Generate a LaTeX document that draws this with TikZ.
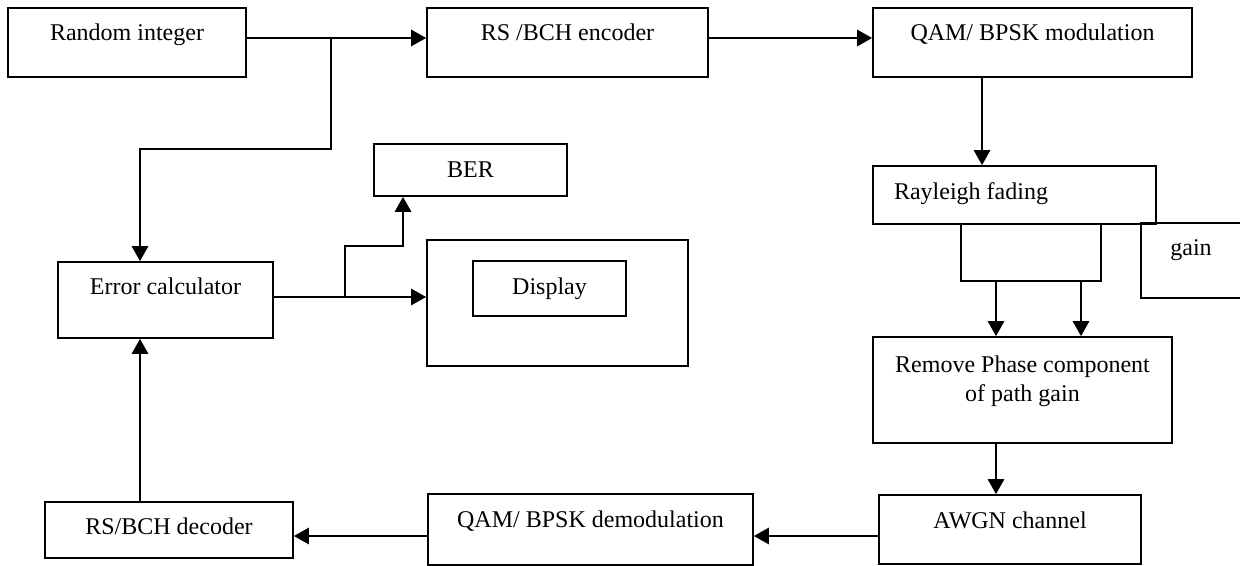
\documentclass[tikz,border=0pt]{standalone}
\usepackage{fontspec}
\setmainfont{Liberation Serif}
\usetikzlibrary{arrows.meta}

\begin{document}
\begin{tikzpicture}[x=0.5pt,y=-0.5pt,>={Triangle[length=7.5pt,width=8pt]},line width=1.3pt,
        block/.style={draw,line width=0.8pt,inner sep=0pt,font=\fontsize{12}{14.5}\selectfont,
            text height=8pt,text depth=#1},
        block/.default=0pt]
    \useasboundingbox (0,0) rectangle (1240,566);
    % top row
    \node[block=9.5pt,minimum width=119pt,minimum height=34.5pt] (rand) at (127,42.5) {Random integer};
    \node[block=9.5pt,minimum width=140.5pt,minimum height=34.5pt] (enc) at (567.5,42.5) {RS /BCH encoder};
    \node[block=9.5pt,minimum width=159.5pt,minimum height=34.5pt] (mod) at (1032.5,42.5) {QAM/ BPSK modulation};
    % channel
    \node[block=3pt,text width=120.5pt,inner xsep=10.5pt,align=flush left,minimum height=29pt] (ray) at (1014.5,195) {Rayleigh fading};
    \node[block=13pt,draw=none,minimum width=49pt,minimum height=36.5pt] (gain) at (1191,260.5) {gain};
    \node[block=26pt,text width=149.5pt,align=flush center,minimum height=53pt] (rem) at (1022.5,390) {Remove Phase component\\of path gain};
    \node[block=9.5pt,minimum width=131pt,minimum height=34.5pt] (awgn) at (1010,529.5) {AWGN channel};
    % bottom row
    \node[block=10.5pt,minimum width=162.5pt,minimum height=35.5pt] (demod) at (590.5,529.5) {QAM/ BPSK demodulation};
    \node[block=4pt,minimum width=124pt,minimum height=28pt] (dec) at (169,530) {RS/BCH decoder};
    % error counting
    \node[block=13pt,minimum width=107.5pt,minimum height=38pt] (err) at (165.5,300) {Error calculator};
    \node[block,minimum width=96.5pt,minimum height=26pt] (ber) at (470.5,170) {BER};
    \node[block,minimum width=130.5pt,minimum height=63pt] (disp) at (557.5,303) {};
    \node[block=2.5pt,minimum width=76.5pt,minimum height=27.5pt] (dispin) at (549.5,288.5) {Display};

    \coordinate (tap) at (331,38);
    \coordinate (col) at (140,149);
    \coordinate (split) at (345,297);
    \coordinate (bend) at (403,246);
    \coordinate (drop) at (982,120);
    \coordinate (bl) at (961,281);
    \coordinate (br) at (1101,281);
    \coordinate (f1) at (996,281);
    \coordinate (f2) at (1081,281);
    \coordinate (lo) at (700,536);

    \draw[->] (rand.east |- tap) -- (enc.west |- tap);
    \draw[->] (enc.east |- tap) -- (mod.west |- tap);
    \draw[->] (mod.south -| drop) -- (ray.north -| drop);
    \draw (ray.south -| bl) -- (bl) -- (br) -- (ray.south -| br);
    \draw[->] (f1) -- (rem.north -| f1);
    \draw[->] (f2) -- (rem.north -| f2);
    \draw[->] (rem.south -| f1) -- (awgn.north -| f1);
    \draw[->] (awgn.west |- lo) -- (demod.east |- lo);
    \draw[->] (demod.west |- lo) -- (dec.east |- lo);
    \draw[->] (dec.north -| col) -- (err.south -| col);
    \draw[->] (tap) |- (col) -- (err.north -| col);
    \draw[->] (err.east |- split) -- (disp.west |- split);
    \draw[->] (split) |- (bend) -- (ber.south -| bend);
    \draw[line width=0.8pt] (gain.north east) -- (gain.north west) -- (gain.south west) -- (gain.south east);
\end{tikzpicture}
\end{document}
